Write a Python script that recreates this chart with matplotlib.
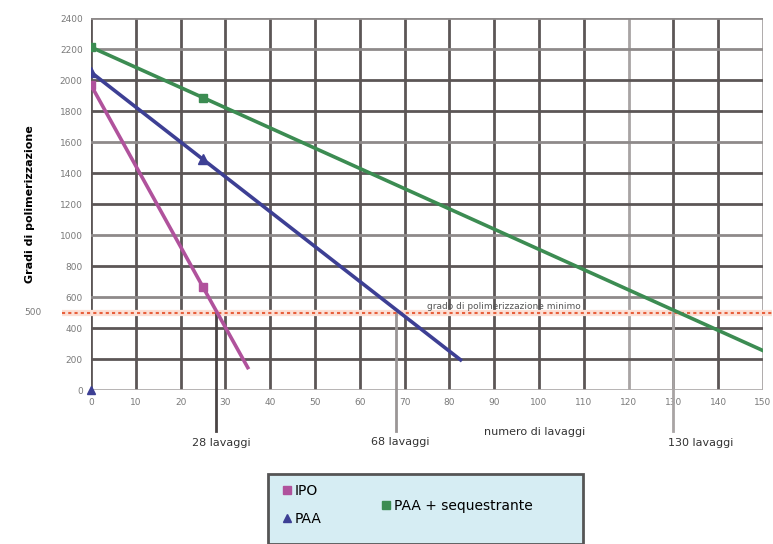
import matplotlib
matplotlib.use("Agg")
import matplotlib.pyplot as plt
from matplotlib.lines import Line2D
from matplotlib.patches import Rectangle

# ---- data ----
ipo_x = [0, 25, 35]
ipo_y = [1970, 665, 145]
paa_x = [0, 25, 82.5]
paa_y = [2053, 1490, 195]
paa_extra_x = [0]
paa_extra_y = [0]
seq_x = [0, 25, 150]
seq_y = [2215, 1889, 255]
threshold = 500
threshold_label = "grado di polimerizzazione minimo"
cross_x = [28, 68, 130]
cross_labels = ["28 lavaggi", "68 lavaggi", "130 lavaggi"]
x_ticks = list(range(0, 151, 10))
y_ticks = list(range(0, 2401, 200))

fig = plt.figure(figsize=(7.73, 5.44), dpi=100)
ax = fig.add_axes([0.1177, 0.283, 0.8693, 0.683])
ax.set_xlim(0, 150)
ax.set_ylim(0, 2400)

gridc = "#5c5656"
for xv in x_ticks:
    c = "#a8a4a4" if xv in (120, 150) else gridc
    ax.axvline(xv, color=c, lw=2, zorder=1)
for yv in y_ticks:
    c = "#b0acac" if yv in (0,) else ("#8e8a8a" if yv in (2400, 2200, 1600, 1000, 600) else gridc)
    ax.axhline(yv, color=c, lw=2, zorder=1)
for s in ax.spines.values():
    s.set_visible(False)

ax.set_xticks(x_ticks)
ax.set_yticks(y_ticks)
ax.tick_params(length=0, labelsize=6.5, colors="#7a7a7a", pad=6)

# threshold line
ax.plot([-6.5, 152], [threshold, threshold], color="#fbe0d6", lw=4.5, clip_on=False, zorder=2,
        solid_capstyle="butt")
ax.plot([-6.5, 152], [threshold, threshold], color="#e8603c", lw=1.5, ls=(0, (1.5, 1.5)),
        clip_on=False, zorder=3)
ax.text(75, 512, threshold_label, fontsize=6.5, color="#555555", ha="left", va="bottom", zorder=4)
ax.text(-11, threshold, "500", fontsize=6.5, color="#7a7a7a", ha="right", va="center",
        clip_on=False)

# vertical crossing markers
vcols = ["#4a4444", "#9a9696", "#a8a4a4"]
for xv, lab, c in zip(cross_x, cross_labels, vcols):
    ax.plot([xv, xv], [threshold, -265], color=c, lw=2, clip_on=False, zorder=2)
ax.text(29, -345, cross_labels[0], fontsize=8, color="#333333", ha="center", va="center")
ax.text(69, -335, cross_labels[1], fontsize=8, color="#333333", ha="center", va="center")
ax.text(136, -345, cross_labels[2], fontsize=8, color="#333333", ha="center", va="center")
ax.text(99, -270, "numero di lavaggi", fontsize=8, color="#333333", ha="center", va="center")

ax.set_ylabel("Gradi di polimerizzazione", fontsize=8, fontweight="bold", labelpad=18)

# series
c_ipo, c_paa, c_seq = "#b0529c", "#3d3f94", "#3c8c52"
ax.plot(ipo_x, ipo_y, color=c_ipo, lw=2.6, marker="s", ms=5.5, markevery=[0, 1], zorder=5)
ax.plot(paa_x, paa_y, color=c_paa, lw=2.6, marker="^", ms=6.5, markevery=[0, 1], zorder=5)
ax.plot(paa_extra_x, paa_extra_y, ls="none", color=c_paa, marker="^", ms=6, zorder=5,
        clip_on=False)
ax.plot(seq_x, seq_y, color=c_seq, lw=2.6, marker="s", ms=5.5, markevery=[0, 1], zorder=4)

# legend box
fig.patches.append(Rectangle((268 / 773, 0), (583 - 268) / 773, (544 - 474) / 544,
                             transform=fig.transFigure, facecolor="#d6edf3",
                             edgecolor="#555555", lw=2, zorder=0))
h_ipo = Line2D([], [], ls="none", marker="s", color=c_ipo, ms=6)
h_paa = Line2D([], [], ls="none", marker="^", color=c_paa, ms=6)
h_seq = Line2D([], [], ls="none", marker="s", color=c_seq, ms=6)
fig.legend([h_ipo, h_paa], ["IPO", "PAA"], loc="center left",
           bbox_to_anchor=(270 / 773, 1 - 505 / 544), frameon=False, fontsize=10,
           handlelength=0.6, handletextpad=0.3, labelspacing=1.0)
fig.legend([h_seq], ["PAA + sequestrante"], loc="center left",
           bbox_to_anchor=(369 / 773, 1 - 506 / 544), frameon=False, fontsize=10,
           handlelength=0.6, handletextpad=0.3)

fig.savefig("out.png", dpi=100)
